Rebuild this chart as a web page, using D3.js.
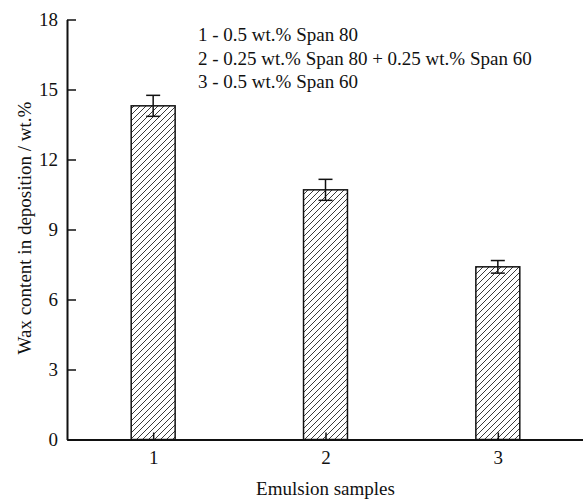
<!DOCTYPE html>
<html>
<head>
<meta charset="utf-8">
<script src="https://cdn.jsdelivr.net/npm/d3@7"></script>
<style>
  html, body { margin: 0; padding: 0; background: #fff; }
  svg { display: block; }
  svg text { font-family: 'Liberation Serif', 'Times New Roman', Times, 'DejaVu Serif', serif !important; }
</style>
</head>
<body>
<svg id="chart" width="583" height="499"></svg>
<script>
// ---- data ----
const categories = [1, 2, 3];
const waxContent = [14.3, 10.7, 7.4];
const errorValues = [0.45, 0.45, 0.27];
const yTicks = [0, 3, 6, 9, 12, 15, 18];
const legendLines = [
  "1 - 0.5 wt.% Span 80",
  "2 - 0.25 wt.% Span 80 + 0.25 wt.% Span 60",
  "3 - 0.5 wt.% Span 60"
];
const xTitle = "Emulsion samples";
const yTitle = "Wax content in deposition / wt.%";

// ---- layout ----
const FONT = "'Liberation Serif', 'Times New Roman', Times, 'DejaVu Serif', serif";
const mLeft = 67, mRight = 584, mTop = 19.5, mBottom = 439.5;
const barWidthUnits = 0.255;

const svg = d3.select("#chart");

const x = d3.scaleLinear().domain([0.5, 3.5]).range([mLeft, mRight]);
const y = d3.scaleLinear().domain([0, 18]).range([mBottom, mTop]);

// hatch pattern
const defs = svg.append("defs");
const pat = defs.append("pattern")
  .attr("id", "hatch")
  .attr("patternUnits", "userSpaceOnUse")
  .attr("width", 6).attr("height", 6);
pat.append("rect").attr("width", 6).attr("height", 6).attr("fill", "#fff");
pat.append("path")
  .attr("d", "M-1,1 l2,-2 M0,6 l6,-6 M5,7 l2,-2")
  .attr("stroke", "#3a3a3a").attr("stroke-width", 1);

const data = categories.map((c, i) => ({ c, v: waxContent[i], e: errorValues[i] }));

// bars
const bw = x(1 + barWidthUnits / 2) - x(1 - barWidthUnits / 2);
svg.append("g").selectAll("rect")
  .data(data).join("rect")
  .attr("x", d => x(d.c) - bw / 2)
  .attr("y", d => y(d.v))
  .attr("width", bw)
  .attr("height", d => y(0) - y(d.v))
  .attr("fill", "url(#hatch)")
  .attr("stroke", "#111")
  .attr("stroke-width", 1.5);

// error bars
const eb = svg.append("g").attr("stroke", "#111").attr("stroke-width", 1.5);
const capW = 14;
eb.selectAll("line.v").data(data).join("line").attr("class", "v")
  .attr("x1", d => x(d.c)).attr("x2", d => x(d.c))
  .attr("y1", d => y(d.v + d.e)).attr("y2", d => y(d.v - d.e));
eb.selectAll("line.t").data(data).join("line").attr("class", "t")
  .attr("x1", d => x(d.c) - capW / 2).attr("x2", d => x(d.c) + capW / 2)
  .attr("y1", d => y(d.v + d.e)).attr("y2", d => y(d.v + d.e));
eb.selectAll("line.b").data(data).join("line").attr("class", "b")
  .attr("x1", d => x(d.c) - capW / 2).attr("x2", d => x(d.c) + capW / 2)
  .attr("y1", d => y(d.v - d.e)).attr("y2", d => y(d.v - d.e));

// axes
const xAxis = d3.axisBottom(x).tickValues(categories).tickFormat(d3.format("d"))
  .tickSizeInner(-7).tickSizeOuter(0).tickPadding(11);
const gx = svg.append("g").attr("transform", `translate(0,${mBottom})`).call(xAxis);
gx.attr("font-family", null).attr("font-size", 19);
gx.select(".domain").attr("stroke", "#111").attr("stroke-width", 2);
gx.selectAll(".tick line").attr("stroke", "#111").attr("stroke-width", 1.5);
gx.selectAll(".tick text").style("font-size", "19px").style("font-family", FONT).attr("fill", "#111");

const yAxis = d3.axisLeft(y).tickValues(yTicks).tickFormat(d3.format("d"))
  .tickSizeInner(-9).tickSizeOuter(0).tickPadding(9);
const gy = svg.append("g").attr("transform", `translate(${mLeft},0)`).call(yAxis);
gy.attr("font-family", null).attr("font-size", 19);
gy.select(".domain").attr("stroke", "#111").attr("stroke-width", 2);
gy.selectAll(".tick line").attr("stroke", "#111").attr("stroke-width", 1.5);
gy.selectAll(".tick text").style("font-size", "19px").style("font-family", FONT).attr("fill", "#111");

// titles
svg.append("text")
  .attr("x", x(2)).attr("y", 495)
  .attr("text-anchor", "middle")
  .style("font-family", FONT)
  .style("font-size", "19px")
  .attr("fill", "#111")
  .text(xTitle);

svg.append("text")
  .attr("transform", "translate(31,228) rotate(-90)")
  .attr("text-anchor", "middle")
  .style("font-family", FONT)
  .style("font-size", "19px")
  .attr("fill", "#111")
  .text(yTitle);

// legend text
svg.append("g").selectAll("text")
  .data(legendLines).join("text")
  .attr("x", 198)
  .attr("y", (d, i) => 41 + i * 23.5)
  .style("font-family", FONT)
  .style("font-size", "19px")
  .attr("fill", "#111")
  .text(d => d);
</script>
</body>
</html>
